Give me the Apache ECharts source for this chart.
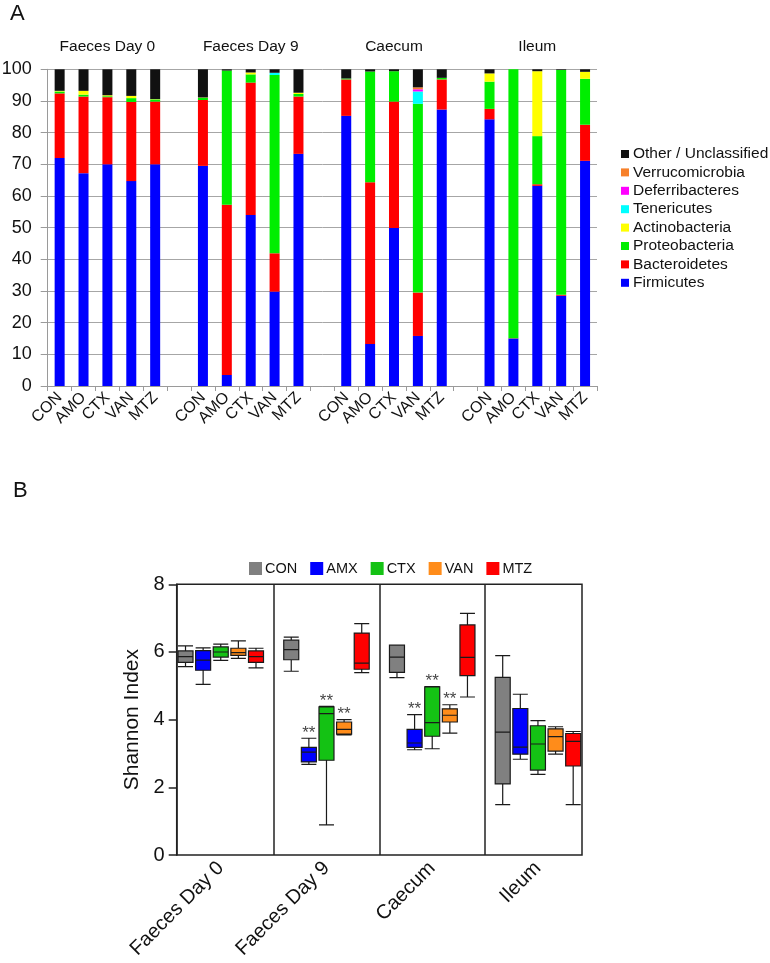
<!DOCTYPE html>
<html><head><meta charset="utf-8">
<script src="https://cdn.jsdelivr.net/npm/echarts@6/dist/echarts.min.js"></script>
<style>html,body{margin:0;padding:0;background:#fff}#c{width:770px;height:963px}</style>
</head><body><div id="c"></div>
<script>
// ---------- Panel A data ----------
const groups = ['Faeces Day 0', 'Faeces Day 9', 'Caecum', 'Ileum'];
const treatmentsA = ['CON', 'AMO', 'CTX', 'VAN', 'MTZ'];
const yTicksA = [0, 100, 10]; // min, max, interval
// 20 values per phylum: each group x (CON, AMO, CTX, VAN, MTZ)
const firmicutes      = [72, 67.2, 70, 64.7, 70,   69.5, 3.5, 54, 29.8, 73.3,   85.3, 13.3, 49.9, 15.8, 87.3,   84.2, 15, 63.2, 28.5, 71.1];
const bacteroidetes   = [20.4, 24.2, 21.2, 25, 19.8, 20.8, 53.7, 41.8, 12.1, 18.1, 11.5, 51, 39.9, 13.7, 9.5,   3.3, 0.1, 0.5, 0.3, 11.4];
const proteobacteria  = [0.6, 0.6, 0.3, 1.2, 0.7,  0.7, 42.4, 2.6, 56.3, 0.8,   0.3, 35, 9.6, 59.6, 0.5,      8.6, 84.9, 15.2, 71, 14.5];
const actinobacteria  = [0.2, 1.2, 0.3, 0.7, 0.1,  0.1, 0, 0.6, 0, 0.4,         0, 0, 0, 0, 0,                2.6, 0, 20.5, 0, 2.2];
const tenericutes     = [0, 0, 0, 0, 0,            0, 0, 0, 0.7, 0,             0, 0, 0, 3.9, 0,              0, 0, 0, 0, 0];
const deferribacteres = [0, 0, 0, 0, 0,            0, 0, 0, 0, 0,               0, 0, 0, 0.7, 0,              0, 0, 0, 0, 0];
const verrucomicrobia = [0, 0, 0, 0, 0,            0, 0, 0, 0, 0,               0, 0, 0, 0.6, 0,              0, 0, 0, 0, 0];
const otherUnclass    = [6.8, 6.8, 8.2, 8.4, 9.4,  9, 0.4, 1, 1.1, 7.4,         2.9, 0.7, 0.6, 5.7, 2.7,      1.3, 0, 0.6, 0.2, 0.8];
const phylumNames = ['Firmicutes', 'Bacteroidetes', 'Proteobacteria', 'Actinobacteria', 'Tenericutes', 'Deferribacteres', 'Verrucomicrobia', 'Other / Unclassified'];
const phylumValues = [firmicutes, bacteroidetes, proteobacteria, actinobacteria, tenericutes, deferribacteres, verrucomicrobia, otherUnclass];
const phylumColors = ['#0000ff', '#ff0000', '#00ee00', '#ffff00', '#00ffff', '#ff00ff', '#f7802a', '#111111'];

// ---------- Panel B data ----------
const treatmentsB = ['CON', 'AMX', 'CTX', 'VAN', 'MTZ'];
const yTicksB = [0, 8, 2];
// [min, Q1, median, Q3, max] for each group
const conBox = [[5.57, 5.69, 5.86, 6.03, 6.18], [5.43, 5.77, 6.07, 6.35, 6.44], [5.24, 5.40, 5.85, 6.20, 6.20], [1.49, 2.10, 3.63, 5.25, 5.89]];
const amxBox = [[5.04, 5.46, 5.76, 6.04, 6.12], [2.68, 2.75, 3.04, 3.18, 3.45], [3.11, 3.18, 3.31, 3.71, 4.15], [2.83, 2.98, 3.19, 4.33, 4.75]];
const ctxBox = [[5.75, 5.85, 6.00, 6.15, 6.23], [0.89, 2.80, 4.18, 4.38, 4.39], [3.14, 3.51, 3.91, 4.97, 4.98], [2.38, 2.51, 3.28, 3.82, 3.97]];
const vanBox = [[5.81, 5.90, 5.98, 6.11, 6.33], [3.55, 3.57, 3.71, 3.93, 4.00], [3.60, 3.93, 4.13, 4.32, 4.44], [2.98, 3.07, 3.50, 3.73, 3.79]];
const mtzBox = [[5.53, 5.69, 5.86, 6.03, 6.11], [5.39, 5.49, 5.67, 6.56, 6.84], [4.67, 5.30, 5.84, 6.80, 7.14], [1.49, 2.63, 3.36, 3.59, 3.65]];
const boxData = [conBox, amxBox, ctxBox, vanBox, mtzBox];
const boxColors = ['#808080', '#0000ff', '#14c214', '#ff8c1a', '#ff0000'];
const significant = [['Faeces Day 9', 'AMX'], ['Faeces Day 9', 'CTX'], ['Faeces Day 9', 'VAN'], ['Caecum', 'AMX'], ['Caecum', 'CTX'], ['Caecum', 'VAN']];

// ---------- build slot categories (5 per group + one gap between groups) ----------
function buildCats(treats) {
  const cats = [];
  groups.forEach((g, gi) => {
    treats.forEach(t => cats.push(g + '|' + t));
    if (gi < groups.length - 1) cats.push('gap' + gi);
  });
  return cats;
}
const catsA = buildCats(treatmentsA);
const catsB = buildCats(treatmentsB);
function toSlots(vals, blank) {
  const out = [];
  groups.forEach((g, gi) => {
    for (let t = 0; t < 5; t++) out.push(vals[gi * 5 + t]);
    if (gi < groups.length - 1) out.push(blank);
  });
  return out;
}
const FONT = '"Liberation Sans", Arial, Helvetica, sans-serif';
const isGroupCenter = (idx) => idx % 6 === 2;

const chart = echarts.init(document.getElementById('c'), null, { renderer: 'canvas' });

const series = [];
phylumNames.forEach((n, i) => {
  series.push({
    name: n, type: 'bar', stack: 'phyla', xAxisIndex: 0, yAxisIndex: 0,
    barWidth: 10, itemStyle: { color: phylumColors[i] },
    data: toSlots(phylumValues[i], '-'), animation: false
  });
});
treatmentsB.forEach((t, i) => {
  const data = [];
  catsB.forEach((c) => {
    const parts = c.split('|');
    if (parts[1] === t) data.push(boxData[i][groups.indexOf(parts[0])]);
    else data.push(['-', '-', '-', '-', '-']);
  });
  const s = {
    name: t, type: 'boxplot', xAxisIndex: 2 + i, yAxisIndex: 1,
    boxWidth: [15, 15],
    itemStyle: { color: boxColors[i], borderColor: '#1a1a1a', borderWidth: 1.2 },
    emphasis: { disabled: true },
    data: data, animation: false
  };
  if (i === 0) {
    s.markLine = {
      symbol: 'none', silent: true, label: { show: false }, animation: false,
      lineStyle: { color: '#222', type: 'solid', width: 1.5 },
      data: [{ xAxis: 'gap0' }, { xAxis: 'gap1' }, { xAxis: 'gap2' }]
    };
  }
  series.push(s);
});
series.push({
  type: 'scatter', xAxisIndex: 2, yAxisIndex: 1, symbolSize: 1,
  itemStyle: { color: 'rgba(0,0,0,0)' }, animation: false, silent: true,
  label: { show: true, position: 'top', distance: -4, formatter: '**', fontSize: 17, color: '#111', fontFamily: FONT },
  data: significant.map(([g, t]) => {
    const gi = groups.indexOf(g), ti = treatmentsB.indexOf(t);
    return [g + '|' + t, boxData[ti][gi][4]];
  })
});

const hiddenB = [1, 2, 3, 4].map(() => ({
  type: 'category', gridIndex: 1, data: catsB, show: false, boundaryGap: true
}));

const option = {
  backgroundColor: '#fff',
  animation: false,
  textStyle: { fontFamily: FONT },
  graphic: [
    { type: 'text', left: 10, top: 3, style: { text: 'A', font: '22px ' + FONT, fill: '#111' } },
    { type: 'text', left: 13, top: 480, style: { text: 'B', font: '22px ' + FONT, fill: '#111' } }
  ],
  legend: [
    {
      orient: 'vertical', left: 616, top: 141, itemWidth: 8, itemHeight: 8, itemGap: 2.4,
      icon: 'rect', selectedMode: false,
      data: phylumNames.slice().reverse(),
      textStyle: { fontSize: 15.5, color: '#111', fontFamily: FONT, padding: [0, 0, 0, -1] }
    },
    {
      orient: 'horizontal', left: 244, top: 556, itemWidth: 13, itemHeight: 13, itemGap: 13,
      icon: 'rect', selectedMode: false,
      data: treatmentsB.map((t, i) => ({ name: t, itemStyle: { color: boxColors[i], borderWidth: 0 } })),
      textStyle: { fontSize: 14.5, color: '#111', fontFamily: FONT, padding: [0, 0, 0, -2] }
    }
  ],
  grid: [
    { left: 47.7, right: 173, top: 69.3, bottom: 577, outerBoundsMode: 'none', containLabel: false },
    { left: 176.7, right: 188, top: 584.3, bottom: 108, outerBoundsMode: 'none', containLabel: false,
      show: true, borderColor: '#222', borderWidth: 1.5, backgroundColor: 'rgba(0,0,0,0)' }
  ],
  xAxis: [
    {
      type: 'category', gridIndex: 0, data: catsA, boundaryGap: true,
      axisLine: { show: true, lineStyle: { color: '#9a9a9a', width: 1 } },
      axisTick: { show: true, length: 5, lineStyle: { color: '#9a9a9a' }, interval: 0 },
      axisLabel: {
        interval: 0, rotate: 45, margin: 9, fontSize: 16, color: '#111', fontFamily: FONT, hideOverlap: false,
        formatter: v => v.indexOf('|') >= 0 ? v.split('|')[1] : ''
      },
      splitLine: { show: false }
    },
    {
      type: 'category', gridIndex: 0, data: catsA, position: 'top', boundaryGap: true,
      axisLine: { show: false }, axisTick: { show: false },
      axisLabel: {
        interval: (idx) => isGroupCenter(idx), margin: 15, fontSize: 15.5, color: '#111', fontFamily: FONT, hideOverlap: false,
        formatter: v => v.split('|')[0]
      },
      splitLine: { show: false }
    },
    {
      type: 'category', gridIndex: 1, data: catsB, boundaryGap: true,
      axisLine: { show: false }, axisTick: { show: false },
      axisLabel: {
        interval: (idx) => isGroupCenter(idx), rotate: 45, margin: 10, fontSize: 20, color: '#111', fontFamily: FONT, hideOverlap: false,
        formatter: v => v.split('|')[0]
      },
      splitLine: { show: false }
    },
    ...hiddenB
  ],
  yAxis: [
    {
      type: 'value', gridIndex: 0, min: yTicksA[0], max: yTicksA[1], interval: yTicksA[2],
      axisLine: { show: true, lineStyle: { color: '#9a9a9a' } },
      axisTick: { show: true, length: 7, lineStyle: { color: '#9a9a9a' } },
      axisLabel: { fontSize: 18, margin: 16, color: '#111', fontFamily: FONT },
      splitLine: { show: true, lineStyle: { color: '#a6a6a6', width: 1 } }
    },
    {
      type: 'value', gridIndex: 1, min: yTicksB[0], max: yTicksB[1], interval: yTicksB[2],
      name: 'Shannon Index', nameLocation: 'middle', nameGap: 31, nameRotate: 90,
      nameTextStyle: { fontSize: 21, color: '#111', fontFamily: FONT },
      axisLine: { show: true, lineStyle: { color: '#222', width: 1.5 } },
      axisTick: { show: true, length: 8, lineStyle: { color: '#222', width: 1.5 } },
      axisLabel: { fontSize: 20, margin: 12, color: '#111', fontFamily: FONT },
      splitLine: { show: false }
    }
  ],
  series: series
};
chart.setOption(option);
</script>
</body></html>
